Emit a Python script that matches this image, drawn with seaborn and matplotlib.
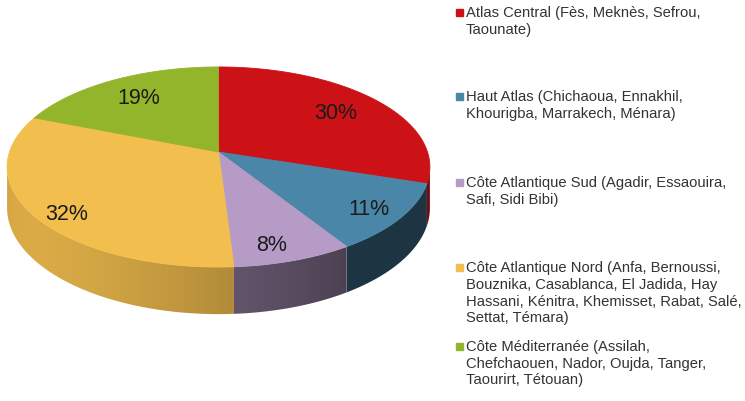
import numpy as np
import matplotlib
matplotlib.use("Agg")
import matplotlib.pyplot as plt
import seaborn as sns
from matplotlib.patches import Rectangle, Polygon

# Data
regions = [
    "Atlas Central (Fès, Meknès, Sefrou,\nTaounate)",
    "Haut Atlas (Chichaoua, Ennakhil,\nKhourigba, Marrakech, Ménara)",
    "Côte Atlantique Sud (Agadir, Essaouira,\nSafi, Sidi Bibi)",
    "Côte Atlantique Nord (Anfa, Bernoussi,\nBouznika, Casablanca, El Jadida, Hay\nHassani, Kénitra, Khemisset, Rabat, Salé,\nSettat, Témara)",
    "Côte Méditerranée (Assilah,\nChefchaouen, Nador, Oujda, Tanger,\nTaourirt, Tétouan)",
]
shares = [30, 11, 8, 32, 19]
pct_labels = ["30%", "11%", "8%", "32%", "19%"]

# Style
colors = sns.color_palette(["#CC1117", "#4A86A8", "#B59BC5", "#F2BE4E", "#93B52B"])
wall_scale = [1.05, 0.72, 0.74, 1.0, 1.0]
label_radius = [0.74, 0.85, 0.86, 0.88, 0.74]
label_shift = [0, -1, -3, 5, 0]  # degrees, nudges label along the slice
legend_y_px = [13, 97, 183, 268, 347]

sns.set_style("white")
plt.rcParams['font.family'] = ['Liberation Sans', 'DejaVu Sans']

W, H = 745, 402
fig = plt.figure(figsize=(W / 100, H / 100), dpi=100)
ax = fig.add_axes([0, 0, 440 / W, 1])

# perspective view of the disc (pixel space of the axes)
cx, cy = 218.5, 153
a, b, k = 209, 97.8, 0.15
d0 = 40


def proj(t, r=1.0):
    t = np.radians(t)
    u, v = r * np.cos(t), r * np.sin(t)
    w = 1 + k * v
    return cx + a * u / w, cy - b * v / w, w


def shade(t):
    return 0.55 + 0.35 * np.clip(np.cos(np.radians(t + 145)), 0, None)


fr = np.array(shares) / sum(shares)
starts = 90 - 360 * np.concatenate([[0], np.cumsum(fr)[:-1]])
ends = 90 - 360 * np.cumsum(fr)
edge = np.degrees(np.arcsin(k))

# side wall, front part only
for s, e, c, sc in zip(starts, ends, colors, wall_scale):
    lo, hi = max(e, -180 + edge), min(s, -edge)
    if lo >= hi:
        continue
    ts = np.linspace(lo, hi, 80)
    x, y, w = proj(ts)
    yb = y + d0 / w
    poly = np.column_stack([np.r_[x, x[::-1]], np.r_[y, yb[::-1]]])
    patch = Polygon(poly, closed=True, fc='none', ec='none')
    ax.add_patch(patch)
    cols = np.linspace(x.min(), x.max(), 300)
    tt = np.interp(cols, x, ts)
    rgb = np.clip(np.outer(sc * shade(tt), c), 0, 1)[None, :, :]
    im = ax.imshow(rgb, extent=(x.min(), x.max(), yb.max() + 1, y.min() - 1),
                   aspect='auto', interpolation='bilinear', zorder=1)
    im.set_clip_path(patch)

# top face
for s, e, c in zip(starts, ends, colors):
    ts = np.linspace(s, e, 120)
    x, y, _ = proj(ts)
    ax.fill(np.r_[cx, x], np.r_[cy, y], color=c, lw=0.6, zorder=2)

for s, e, r, dt, lab in zip(starts, ends, label_radius, label_shift, pct_labels):
    x, y, _ = proj(0.5 * (s + e) + dt, r)
    ax.text(x, y, lab, ha='center', va='center',
            fontsize=15.5, color='#1a1a1a', zorder=3)

ax.set_xlim(0, 440)
ax.set_ylim(H, 0)
ax.axis('off')

# legend
for lab, c, y in zip(regions, colors, legend_y_px):
    fig.patches.append(Rectangle((456 / W, 1 - (y + 3.5) / H), 7 / W, 7 / H,
                                 transform=fig.transFigure, color=c))
    fig.text(466 / W, 1 - (y - 7) / H, lab, ha='left', va='top',
             fontsize=10.6, color='#333333', linespacing=1.25)

fig.savefig("out.png", dpi=100)
